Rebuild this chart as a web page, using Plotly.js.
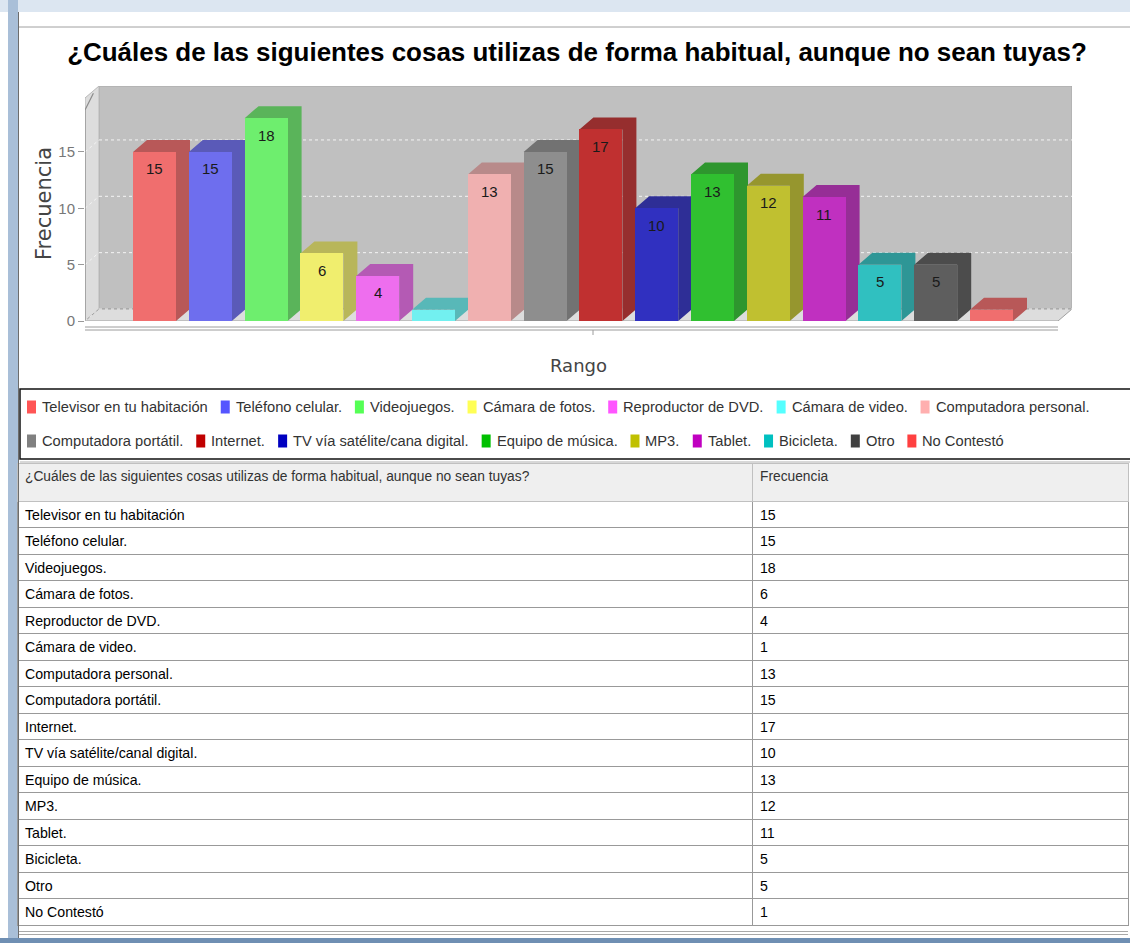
<!DOCTYPE html>
<html><head><meta charset="utf-8">
<script src="https://cdn.plot.ly/plotly-3.0.1.min.js"></script>
<style>html,body{margin:0;padding:0;background:#fff;}#chart{width:1130px;height:943px;}</style>
</head><body><div id="chart"></div>
<script>
// ---------- data ----------
const chartTitle = "¿Cuáles de las siguientes cosas utilizas de forma habitual, aunque no sean tuyas?";
const categories = ["Televisor en tu habitación","Teléfono celular.","Videojuegos.","Cámara de fotos.","Reproductor de DVD.","Cámara de video.","Computadora personal.","Computadora portátil.","Internet.","TV vía satélite/canal digital.","Equipo de música.","MP3.","Tablet.","Bicicleta.","Otro","No Contestó"];
const legendLabels = ["Televisor en tu habitación","Teléfono celular.","Videojuegos.","Cámara de fotos.","Reproductor de DVD.","Cámara de video.","Computadora personal.","Computadora portátil.","Internet.","TV vía satélite/cana digital.","Equipo de música.","MP3.","Tablet.","Bicicleta.","Otro","No Contestó"];
const frecuencia = [15,15,18,6,4,1,13,15,17,10,13,12,11,5,5,1];
const yTickVals = [0,5,10,15];
const tableHeader = [chartTitle, "Frecuencia"];
const xTitle = "Rango";
const yTitle = "Frecuencia";

// ---------- styles ----------
const faceColors  = ["#f06e6e","#6e6eee","#6eee6e","#f0ee6e","#ee6eee","#72f0f0","#f0b0b0","#8e8e8e","#c03030","#3030c0","#30c030","#c0c030","#c030c0","#30c0c0","#5e5e5e","#f06e6e"];
const shadeColors = ["#b85858","#5a5ab8","#5ab45a","#b8b65a","#b45ab4","#58b8b8","#b88a8a","#727272","#962e2e","#2e2e96","#2e962e","#96962e","#962e96","#2e9696","#4c4c4c","#b85858"];
const legendColors= ["#ff5555","#5555ff","#55ff55","#ffff55","#ff55ff","#55ffff","#ffafaf","#808080","#c00000","#0000c0","#00c000","#c0c000","#c000c0","#00c0c0","#404040","#ff4040"];
const SANS = '"Liberation Sans", Arial, sans-serif';

const ctx = document.createElement('canvas').getContext('2d');
function textW(t, size, weight) { ctx.font = `${weight||'normal'} ${size}px ${SANS}`; return ctx.measureText(t).width; }
function fitSize(t, target, weight) { return 20 * target / textW(t, 20, weight); }

const W = 1130, H = 943;
const px = x => x / W, py = y => 1 - y / H;
// plot geometry (pixels)
const X0 = 85, X1 = 1072, YT = 86, YB = 321;
const SPACING = 55.8, YSCALE = 11.27, DEPTHX = 14, DEPTHY = 12, BARW = 43, FIRSTC = 154.5;
const xr0 = -(FIRSTC - X0) / SPACING, xr1 = xr0 + (X1 - X0) / SPACING;
const yr1 = (YB - YT) / YSCALE;
const dxU = DEPTHX / SPACING, dyU = DEPTHY / YSCALE, hw = BARW / SPACING / 2;

const TITLE_SIZE = Math.min(30, fitSize(chartTitle, 1020, 'bold'));
const LEG_SIZE = fitSize(legendLabels.slice(0, 7).join(''), 880);
const CELL_SIZE = fitSize(categories[0], 160);
const HEAD_SIZE = fitSize(chartTitle, 505);

const shapes = [];
// window frame decoration
shapes.push({type:'rect',xref:'paper',yref:'paper',x0:0,x1:1,y0:py(12),y1:1,fillcolor:'#dce6f1',line:{width:0},layer:'below'});
shapes.push({type:'rect',xref:'paper',yref:'paper',x0:px(8),x1:px(18),y0:0,y1:1,fillcolor:'#a9bfd8',line:{width:0},layer:'below'});
shapes.push({type:'line',xref:'paper',yref:'paper',x0:px(18.5),x1:px(18.5),y0:0,y1:py(12),line:{color:'#6d6d6d',width:1}});
shapes.push({type:'line',xref:'paper',yref:'paper',x0:px(19),x1:1,y0:py(27),y1:py(27),line:{color:'#a0a0a0',width:1}});
shapes.push({type:'rect',xref:'paper',yref:'paper',x0:0,x1:1,y0:0,y1:py(938),fillcolor:'#6f8fb3',line:{width:0}});

// 3D walls
shapes.push({type:'path',xref:'x',yref:'y',layer:'below',fillcolor:'#c0c0c0',line:{color:'#a8a8a8',width:1},
  path:`M${xr0+dxU},${dyU} L${xr0+dxU},${yr1} L${xr1},${yr1} L${xr1},${dyU} Z`});
shapes.push({type:'path',xref:'x',yref:'y',layer:'below',fillcolor:'#dddddd',line:{color:'#b8b8b8',width:1},
  path:`M${xr0},0 L${xr0},${yr1-dyU} L${xr0+dxU},${yr1} L${xr0+dxU},${dyU} Z`});
shapes.push({type:'path',xref:'x',yref:'y',layer:'below',fillcolor:'#dddddd',line:{color:'#a0a0a0',width:1},
  path:`M${xr0},0 L${xr0+dxU},${dyU} L${xr1},${dyU} L${xr1-dxU},0 Z`});
// grid lines on back wall and left wall
yTickVals.forEach(v => {
  shapes.push({type:'line',xref:'x',yref:'y',layer:'below',x0:xr0+dxU,x1:xr1,y0:v+dyU,y1:v+dyU,line:{color:'#f4f4f4',width:1,dash:'dot'}});
  shapes.push({type:'line',xref:'x',yref:'y',layer:'below',x0:xr0,x1:xr0+dxU,y0:v,y1:v+dyU,line:{color:'#f4f4f4',width:1,dash:'dot'}});
});
// y axis line
shapes.push({type:'path',xref:'x',yref:'y',line:{color:'#8c8c8c',width:1.2},
  path:`M${xr0},0 L${xr0},${yr1-2*dyU} L${xr0+dxU*0.6},${yr1-dyU*0.6}`});
// x axis double line and tick
shapes.push({type:'line',xref:'paper',yref:'paper',x0:px(X0),x1:px(X1-DEPTHX),y0:py(327),y1:py(327),line:{color:'#9c9c9c',width:1}});
shapes.push({type:'line',xref:'paper',yref:'paper',x0:px(X0),x1:px(X1-DEPTHX),y0:py(330),y1:py(330),line:{color:'#9c9c9c',width:1}});
shapes.push({type:'line',xref:'paper',yref:'paper',x0:px(593),x1:px(593),y0:py(330),y1:py(335),line:{color:'#9c9c9c',width:1}});

// 3D top + side faces of each bar (from the data)
frecuencia.forEach((v, i) => {
  const L = i - hw, R = i + hw;
  shapes.push({type:'path',xref:'x',yref:'y',layer:'below',fillcolor:shadeColors[i],line:{width:0},
    path:`M${L},${v} L${L+dxU},${v+dyU} L${R+dxU},${v+dyU} L${R+dxU},${dyU} L${R},0 L${R},${v} Z`});
});

// legend box
shapes.push({type:'rect',xref:'paper',yref:'paper',x0:px(20),x1:px(1140),y0:py(459),y1:py(389),line:{color:'#111',width:1.5}});
shapes.push({type:'line',xref:'paper',yref:'paper',x0:px(20),x1:1,y0:py(462),y1:py(462),line:{color:'#b0b0b0',width:1}});
// table bottom lines
shapes.push({type:'line',xref:'paper',yref:'paper',x0:px(19),x1:px(1128),y0:py(931.5),y1:py(931.5),line:{color:'#a8a8a8',width:1}});
shapes.push({type:'line',xref:'paper',yref:'paper',x0:px(19),x1:px(1128),y0:py(934.5),y1:py(934.5),line:{color:'#a8a8a8',width:1}});

const annotations = [];
// bar value labels
frecuencia.forEach((v, i) => {
  if (v * YSCALE >= 30) {
    annotations.push({x:categories[i], y:v, xref:'x', yref:'y', yshift:-17, yanchor:'middle', xanchor:'center',
      text:String(v), showarrow:false, font:{family:SANS, size:15, color:'#1a1a1a'}});
  }
});

// legend (laid out from measured text widths)
const LEG_LEFT = 27, LEG_RIGHT = 1125, ROW_Y = [407, 441], SW_W = 9, SW_H = 13, TXT_GAP = 4, ITEM_GAP = 15;
let lx = LEG_LEFT, row = 0;
legendLabels.forEach((lab, i) => {
  const tw = textW(lab, LEG_SIZE);
  const itemW = SW_W + TXT_GAP + tw;
  if (lx + itemW > LEG_RIGHT && lx > LEG_LEFT) { row++; lx = LEG_LEFT; }
  const cy = ROW_Y[Math.min(row, ROW_Y.length - 1)];
  shapes.push({type:'rect',xref:'paper',yref:'paper',x0:px(lx),x1:px(lx+SW_W),y0:py(cy+SW_H/2),y1:py(cy-SW_H/2),fillcolor:legendColors[i],line:{width:0}});
  annotations.push({xref:'paper',yref:'paper',x:px(lx+SW_W+TXT_GAP),y:py(cy),xanchor:'left',yanchor:'middle',showarrow:false,
    text:lab, font:{family:SANS, size:LEG_SIZE, color:'#333'}});
  lx += itemW + ITEM_GAP;
});

const bars = {
  type:'bar', x:categories, y:frecuencia, width:BARW/SPACING,
  marker:{color:faceColors, line:{width:0}}, showlegend:false,
  hovertemplate:'%{x}: %{y}<extra></extra>'
};

const table = {
  type:'table',
  domain:{x:[px(17), px(1128)], y:[py(930), py(463)]},
  columnwidth:[735, 376],
  header:{values:tableHeader, align:'left', height:38,
    fill:{color:'#efefef'}, line:{color:'#c0c0c0', width:1},
    font:{family:SANS, size:HEAD_SIZE, color:'#333'}},
  cells:{values:[categories, frecuencia], align:'left', height:26.5,
    fill:{color:'#ffffff'}, line:{color:'#999999', width:1},
    font:{family:SANS, size:CELL_SIZE, color:'#000'}}
};

const layout = {
  width:W, height:H, margin:{l:0,r:0,t:0,b:0},
  paper_bgcolor:'#ffffff', plot_bgcolor:'rgba(0,0,0,0)',
  title:{text:chartTitle, x:px(577), y:py(52), xanchor:'center', yanchor:'middle', xref:'paper', yref:'paper',
    font:{family:SANS, size:TITLE_SIZE, weight:'bold', color:'#000'}},
  xaxis:{domain:[px(X0), px(X1)], range:[xr0, xr1], type:'category', showgrid:false, zeroline:false,
    showticklabels:false, ticks:'', showline:false, fixedrange:true,
    title:{text:xTitle, standoff:38, font:{family:'DejaVu Sans', size:18, color:'#444'}}},
  yaxis:{domain:[py(YB), py(YT)], range:[0, yr1], tickvals:yTickVals, showgrid:false, zeroline:false, showline:false,
    ticks:'outside', ticklen:6, tickcolor:'#999', tickfont:{family:SANS, size:15, color:'#777'}, fixedrange:true,
    title:{text:yTitle, standoff:0, font:{family:'DejaVu Sans', size:21, color:'#444'}}},
  shapes:shapes, annotations:annotations, bargap:0
};

Plotly.newPlot('chart', [bars, table], layout, {displayModeBar:false, staticPlot:true});
</script></body></html>
